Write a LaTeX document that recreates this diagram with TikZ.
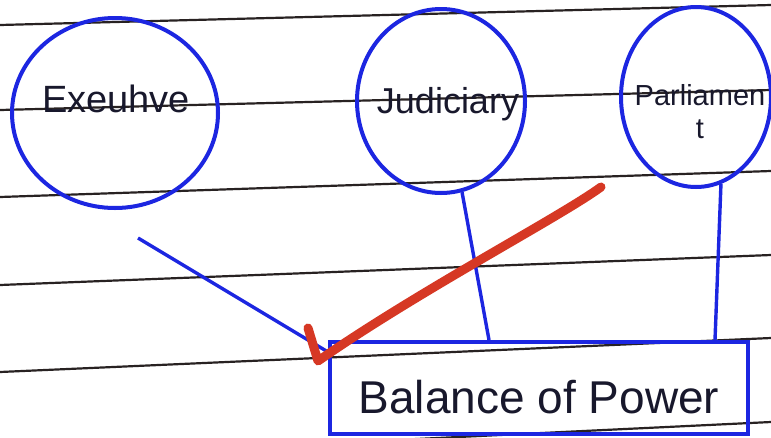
\documentclass[tikz,border=0pt]{standalone}
\usepackage{fontspec}
\setmainfont{Liberation Sans}
\usetikzlibrary{shapes.geometric}
\definecolor{inkBlue}{RGB}{28,38,225}
\definecolor{inkRed}{RGB}{214,56,36}
\definecolor{inkDark}{RGB}{24,24,44}
\definecolor{ruleDark}{RGB}{40,34,34}

\begin{document}
\begin{tikzpicture}[
    x=1pt, y=-1pt,
    ruled/.style={ruleDark, line width=2.2pt},
    branch/.style={draw=inkBlue, ellipse, line width=4pt, inner sep=0pt},
    word/.style={text=inkDark, inner sep=0pt, align=center},
    bop/.style={draw=inkBlue, line width=4pt, minimum width=418pt, minimum height=92pt, inner sep=0pt, text=inkDark},
    link/.style={inkBlue, line width=3.4pt},
    redarr/.style={inkRed, line width=9pt, line cap=round, line join=round}
]
\useasboundingbox (0,0) rectangle (771,437);
\fill[white] (0,0) rectangle (771,437);

% ruled paper
\foreach \yl/\yr in {25/5,110/90,197/171,285/255,372/338,459/422}
    \draw[ruled] (0,\yl) -- (771,\yr);

% the three branches
\node[branch, minimum width=206pt, minimum height=190pt] (exec) at (115,113) {};
\node[branch, minimum width=168pt, minimum height=184pt] (jud) at (441,101) {};
\node[branch, minimum width=150pt, minimum height=180pt] (parl) at (696,97) {};

\node[word, font=\fontsize{38}{44}\selectfont] (exectxt) at (116,99) {Exeuhve};
\node[word, font=\fontsize{36}{42}\selectfont] (judtxt) at (448,104) {Judiciary};
\node[word, font=\fontsize{29}{33}\selectfont] (parltxt) at (700,112) {Parliamen\\t};

\node[bop, font=\fontsize{46}{50}\selectfont, text height=60pt, text depth=9pt] (box) at (539,388) {Balance of Power};

% links into the box
\coordinate (execend) at (138,238);
\coordinate (redstart) at (601,187);
\coordinate (hook) at (318,361);

\draw[link] (execend) -- ([yshift=-12pt]box.north west);
\draw[link] (jud.-77) -- ([xshift=-50pt]box.north);
\draw[link] (parl.-74) -- ([xshift=176pt]box.north);

\draw[redarr] (redstart) .. controls (560,217) and (420,290) .. (hook) -- ++(-10,-33);
\end{tikzpicture}
\end{document}
